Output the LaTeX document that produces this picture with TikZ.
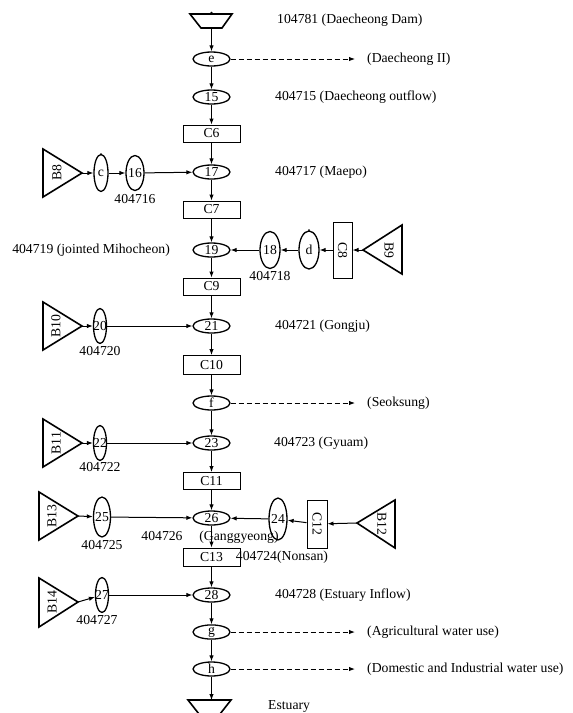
\documentclass[tikz,border=0pt]{standalone}
\usepackage{fontspec}
\setmainfont{Liberation Serif}
\usetikzlibrary{shapes.geometric,arrows.meta}
\begin{document}
\begin{tikzpicture}[x=1pt,y=-1pt,
  every node/.style={font=\fontsize{13.7}{15}\selectfont, inner sep=0pt},
  hell/.style={draw, ellipse, line width=1.3pt, minimum width=37pt, minimum height=14pt},
  vell/.style={draw, ellipse, line width=1.3pt},
  box/.style={draw, rectangle, line width=1pt, minimum width=57pt, minimum height=17pt},
  vbox/.style={draw, rectangle, line width=1pt, rotate=-90},
  arr/.style={-{Latex[length=6pt,width=4.5pt]}, line width=1pt},
  darr/.style={arr, dash pattern=on 5pt off 3pt},
  tri/.style={line width=1.6pt, line join=miter},
  lbl/.style={anchor=west}
]
\useasboundingbox (0,0) rectangle (573,713);

% top reservoir
\draw[tri] (190,14) -- (232,14) -- (222,28) -- (201,28) -- cycle;
\fill (211.5,13) circle (1.5pt);
\coordinate (top) at (211.5,28);

% main column
\node[hell] (e) at (211.5,59) {e};
\node[hell] (n15) at (211.5,97) {15};
\node[box] (C6) at (211.5,133.5) {C6};
\node[hell] (n17) at (211.5,172) {17};
\node[box] (C7) at (211.5,209.5) {C7};
\node[hell] (n19) at (211.5,250) {19};
\node[box] (C9) at (211.5,286.5) {C9};
\node[hell] (n21) at (211.5,326) {21};
\node[box,minimum height=19pt] (C10) at (211.5,365) {C10};
\node[hell] (f) at (211.5,403) {f};
\node[hell] (n23) at (211.5,443) {23};
\node[box] (C11) at (211.5,481) {C11};
\node[hell] (n26) at (211.5,518) {26};
\node[box,minimum height=18pt] (C13) at (211.5,557) {C13};
\node[hell] (n28) at (211.5,595) {28};
\node[hell] (g) at (211.5,632) {g};
\node[hell] (h) at (211.5,669) {h};

% estuary
\draw[tri] (188,700) -- (231,700) -- (220,714) -- (199,714) -- cycle;
\coordinate (bot) at (209.5,700);

\draw[arr] (top) -- (e);
\foreach \a/\b in {e/n15,n15/C6,C6/n17,n17/C7,C7/n19,n19/C9,C9/n21,n21/C10,C10/f,f/n23,n23/C11,C11/n26,n26/C13,C13/n28,n28/g,g/h}
  \draw[arr] (\a) -- (\b);
\draw[arr] (h) -- (h |- bot);

% dashed withdrawals
\coordinate (eD) at (355,59);
\coordinate (fD) at (355,403);
\coordinate (gD) at (355,632);
\coordinate (hD) at (355,669);
\draw[darr] (e) -- (eD);
\draw[darr] (f) -- (fD);
\draw[darr] (g) -- (gD);
\draw[darr] (h) -- (hD);
\node[lbl] (le) at (367,59) {(Daecheong II)};
\node[lbl] (lf) at (367,403) {(Seoksung)};
\node[lbl] (lg) at (367,632) {(Agricultural water use)};
\node[lbl] (lh) at (367,669) {(Domestic and Industrial water use)};

% right-hand labels
\node[lbl] (ltop) at (277,20) {104781 (Daecheong Dam)};
\node[lbl] (l15) at (275,97) {404715 (Daecheong outflow)};
\node[lbl] (l17) at (275,172) {404717 (Maepo)};
\node[anchor=east] (l19) at (170,250) {404719 (jointed Mihocheon)};
\node[lbl] (l21) at (275,326) {404721 (Gongju)};
\node[lbl] (l23) at (274,443) {404723 (Gyuam)};
\node[lbl] (l28) at (275,595) {404728 (Estuary Inflow)};
\node[lbl] (lest) at (268,706) {Estuary};

% B8 branch
\draw[tri] (43,149) -- (82,173) -- (43,197) -- cycle;
\coordinate (B8a) at (82,173);
\node[rotate=90] (B8) at (57,173) {B8};
\node[vell, minimum width=14pt, minimum height=37pt] (c) at (101,173) {\makebox[0pt]{c}};
\fill (101,154) circle (1pt);
\node[vell, minimum width=18pt, minimum height=35pt] (n16) at (135,173) {\makebox[0pt]{16}};
\node (l16) at (135,199) {404716};
\draw[arr] (B8a) -- (c);
\draw[arr] (c) -- (n16);
\draw[arr] (n16) -- (n17);

% B9 branch
\draw[tri] (402,225) -- (363,250) -- (402,274) -- cycle;
\coordinate (B9a) at (363,250);
\node[rotate=-90] (B9) at (389,250) {B9};
\node[vbox, minimum width=56pt, minimum height=19pt] (C8) at (342.5,250) {C8};
\node[vell, minimum width=20pt, minimum height=38pt] (d) at (309,250) {\makebox[0pt]{d}};
\fill (309,230) circle (1pt);
\node[vell, minimum width=20pt, minimum height=37pt] (n18) at (270,250) {\makebox[0pt]{18}};
\node (l18) at (270,276) {404718};
\draw[arr] (B9a) -- (C8);
\draw[arr] (C8) -- (d);
\draw[arr] (d) -- (n18);
\draw[arr] (n18) -- (n19);

% B10 branch
\draw[tri] (43,302) -- (82,326) -- (43,350) -- cycle;
\coordinate (B10a) at (82,326);
\node[rotate=90] (B10) at (56,326) {B10};
\node[vell, minimum width=13pt, minimum height=35pt] (n20) at (100,326) {\makebox[0pt]{20}};
\node (l20) at (100,351) {404720};
\draw[arr] (B10a) -- (n20);
\draw[arr] (n20) -- (n21);

% B11 branch
\draw[tri] (43,419) -- (82,443) -- (43,467) -- cycle;
\coordinate (B11a) at (82,443);
\node[rotate=90] (B11) at (56,443) {B11};
\node[vell, minimum width=13pt, minimum height=35pt] (n22) at (100,443) {\makebox[0pt]{22}};
\node (l22) at (100,467) {404722};
\draw[arr] (B11a) -- (n22);
\draw[arr] (n22) -- (n23);

% B13 branch
\draw[tri] (39,492) -- (78,516) -- (39,540) -- cycle;
\coordinate (B13a) at (78,516);
\node[rotate=90] (B13) at (52,516) {B13};
\node[vell, minimum width=17pt, minimum height=40pt] (n25) at (102,517) {\makebox[0pt]{25}};
\node (l25) at (102,545) {404725};
\node (l26) at (162,536) {404726};
\node (lgg) at (239,537) {(Ganggyeong)};
\draw[arr] (B13a) -- (n25);
\draw[arr] (n25) -- (n26);

% B12 branch
\draw[tri] (395,500) -- (357,523) -- (395,548) -- cycle;
\coordinate (B12a) at (357,523);
\node[rotate=-90] (B12) at (382,524) {B12};
\node[vbox, minimum width=48pt, minimum height=20pt] (C12) at (317,524) {C12};
\node[vell, minimum width=18pt, minimum height=42pt] (n24) at (278,519) {\makebox[0pt]{24}};
\node (l24) at (282,557) {404724(Nonsan)};
\draw[arr] (B12a) -- (C12);
\draw[arr] (C12) -- (n24);
\draw[arr] (n24) -- (n26);

% B14 branch
\draw[tri] (39,578) -- (78,602) -- (39,627) -- cycle;
\coordinate (B14a) at (78,602);
\node[rotate=90] (B14) at (52,602) {B14};
\node[vell, minimum width=13pt, minimum height=35pt] (n27) at (102,595) {\makebox[0pt]{27}};
\node (l27) at (97,620) {404727};
\draw[arr] (B14a) -- (n27);
\draw[arr] (n27) -- (n28);
\end{tikzpicture}
\end{document}
